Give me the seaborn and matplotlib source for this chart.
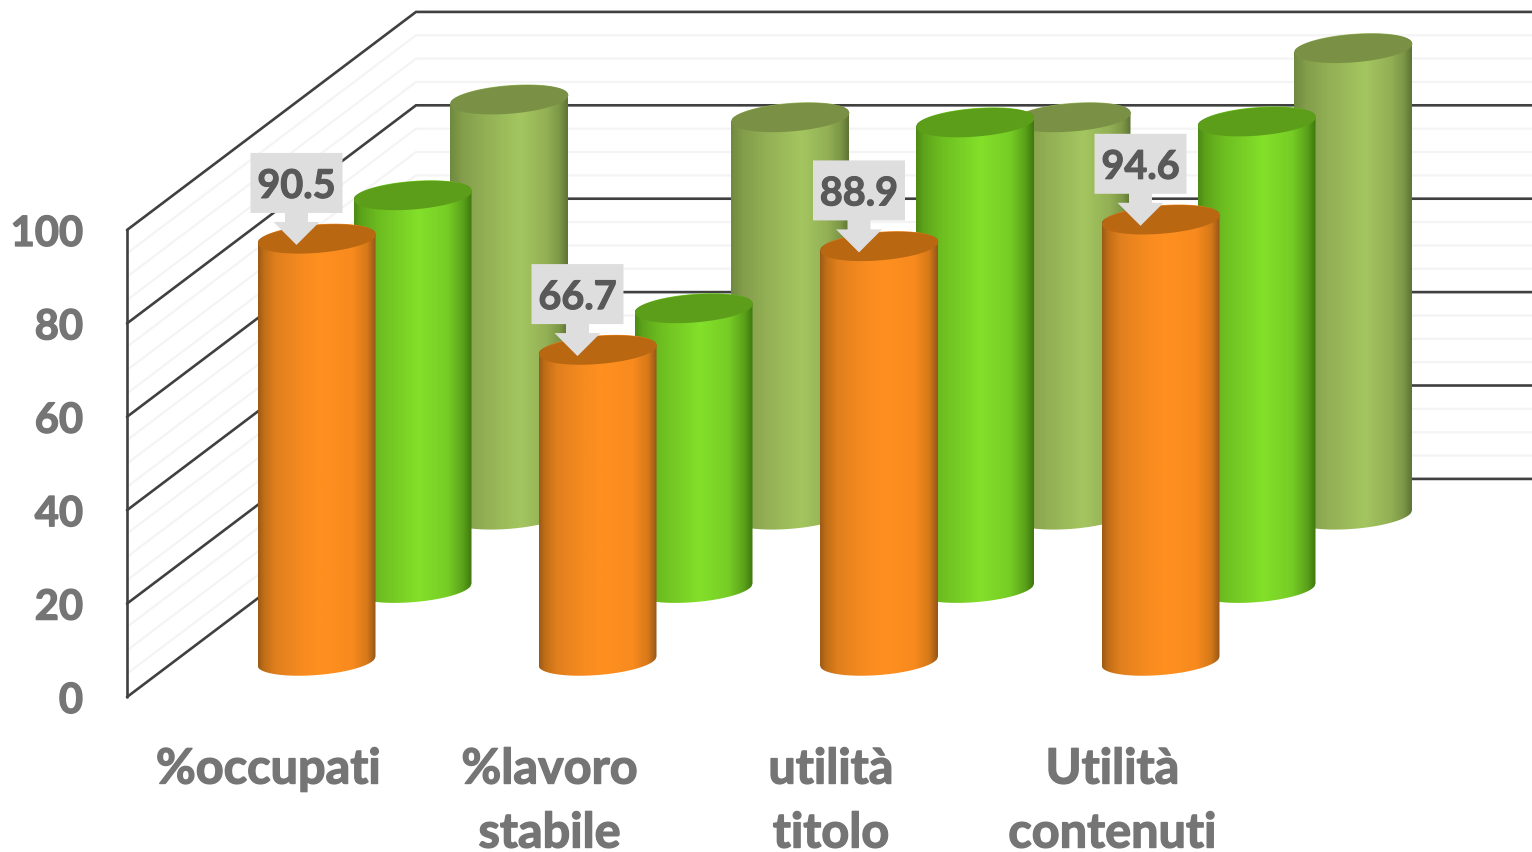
import numpy as np
import seaborn as sns
import matplotlib
matplotlib.use("Agg")
import matplotlib.pyplot as plt
import matplotlib.patheffects as pe
from matplotlib.colors import LinearSegmentedColormap
from matplotlib.path import Path

sns.set_theme(style="white")
plt.rcParams['font.family'] = ['Lato', 'DejaVu Sans']

categories = ["%occupati", "%lavoro\nstabile", "utilità\ntitolo", "Utilità\ncontenuti"]
orange_values = [90.5, 66.7, 88.9, 94.6]
green_values = [84.2, 60.0, 99.8, 100.0]
olive_values = [89.0, 85.2, 85.2, 100.0]
y_ticks = [0, 20, 40, 60, 80, 100]

# one pixel of the picture is one x unit, y stays in chart values
PX_PER_VALUE = 4.67
ZERO_Y_PX = 697
WIDTH_PX, HEIGHT_PX = 1532, 852
BAR_X = np.array([316.5, 597.5, 879.0, 1160.5])
SPACING = 281.0
BAR_W = 118.0
WALL_LEFT, WALL_BACK = 127, 416
WALL_RISE = 46.7
ORANGE_BASE = 7.7
CYL_B = 14.0 / PX_PER_VALUE   # half height of the ellipse
CYL_TILT = 9.0 / PX_PER_VALUE / BAR_W

orange_stops = [(0, "#9c5a16"), (.05, "#c06e16"), (.15, "#e07f1e"), (.4, "#f98c20"), (.55, "#ff9020"),
                (.8, "#f88a1e"), (.93, "#d47818"), (1, "#94561a")]
green_stops = [(0, "#4b8a14"), (.06, "#5ca21a"), (.2, "#6cbc20"), (.55, "#84e02a"), (.8, "#76cc25"),
               (.93, "#5aa01a"), (1, "#3e780e")]
olive_stops = [(0, "#6f8940"), (.1, "#839d4b"), (.3, "#93b055"), (.6, "#a4c660"), (.82, "#93b055"),
               (.93, "#7d9747"), (1, "#5e7336")]

# back to front: value list, x shift, base of the cylinder, colours, top colour
series = [
    (olive_values, 192.5, 39.0, olive_stops, "#7a9145"),
    (green_values, 96.0, 23.3, green_stops, "#5c9e1a"),
    (orange_values, 0.0, ORANGE_BASE, orange_stops, "#b96711"),
]


def ellipse_y(x, cx, cy, sign):
    a = BAR_W / 2
    t = np.clip((x - cx) / a, -1, 1)
    return cy + sign * CYL_B * np.sqrt(1 - t ** 2) + CYL_TILT * (x - cx)


def draw_cylinder(ax, bar, stops, top_color, z):
    x0, x1 = bar.get_x(), bar.get_x() + bar.get_width()
    cx = (x0 + x1) / 2
    y0, y1 = bar.get_y(), bar.get_y() + bar.get_height()
    bar.set_visible(False)

    xs = np.linspace(x0, x1, 120)
    body = list(zip(xs, ellipse_y(xs, cx, y0, -1))) + list(zip(xs[::-1], ellipse_y(xs[::-1], cx, y1, 1)))
    path = Path(np.array(body + [body[0]]), closed=True)

    cmap = LinearSegmentedColormap.from_list("cyl", stops)
    im = ax.imshow(np.linspace(0, 1, 256)[None, :], extent=(x0, x1, y0 - 10, y1 + 10),
                   aspect="auto", cmap=cmap, zorder=z, interpolation="bilinear")
    im.set_clip_path(path, ax.transData)

    top_up = ellipse_y(xs, cx, y1, 1)
    top_down = ellipse_y(xs, cx, y1, -1)
    ax.fill_between(xs, top_down, top_up, color=top_color, lw=0, zorder=z + 0.5)


fig = plt.figure(figsize=(WIDTH_PX / 100, HEIGHT_PX / 100), dpi=100, facecolor="white")
ax = fig.add_axes([0, 0, 1, 1])

# wall grid
for v in np.arange(0, 101, 5):
    major = v in y_ticks
    color = "#404040" if major else "#f4f4f4"
    lw = 1.9 if major else 1.6
    ax.plot([WALL_LEFT, WALL_BACK, WIDTH_PX], [v, v + WALL_RISE, v + WALL_RISE],
            color=color, lw=lw, zorder=2 if major else 1, solid_joinstyle="miter")
ax.plot([WALL_LEFT, WALL_LEFT], [0, 100], color="#404040", lw=1.9, zorder=2)

z = 3
for values, shift, base, stops, top_color in series:
    n_before = len(ax.patches)
    sns.barplot(x=BAR_X + shift, y=values, native_scale=True, orient="x", width=BAR_W / SPACING,
                bottom=base, color=stops[4][1], ax=ax, errorbar=None)
    for bar in ax.patches[n_before:]:
        draw_cylinder(ax, bar, stops, top_color, z)
        z += 1

# callouts on the front series
box_w, box_h = 92.0, 60.0 / PX_PER_VALUE
for x, v in zip(BAR_X, orange_values):
    top = v + ORANGE_BASE
    tip_x = x - 20
    tip_y = top - 1.4
    shaft = 11.5
    head = 23.0
    box_low = tip_y + 32.0 / PX_PER_VALUE
    ax.fill([tip_x - box_w / 2, tip_x + box_w / 2, tip_x + box_w / 2, tip_x + shaft, tip_x + shaft,
             tip_x + head, tip_x, tip_x - head, tip_x - shaft, tip_x - shaft, tip_x - box_w / 2],
            [box_low + box_h, box_low + box_h, box_low, box_low, tip_y + 23.0 / PX_PER_VALUE,
             tip_y + 23.0 / PX_PER_VALUE, tip_y, tip_y + 23.0 / PX_PER_VALUE, tip_y + 23.0 / PX_PER_VALUE,
             box_low, box_low],
            color="#dedede", lw=0, zorder=50)
    ax.text(tip_x, box_low + box_h / 2, f"{v:.1f}", ha="center", va="center_baseline",
            fontsize=28.5, fontweight="bold", color="#595959", zorder=51,
            path_effects=[pe.withStroke(linewidth=0.8, foreground="#595959")])

heavy = [pe.withStroke(linewidth=1.0, foreground="#757575")]

for v in y_ticks:
    ax.text(83, v - 0.1, str(v), ha="right", va="center_baseline", fontsize=30,
            fontweight="bold", color="#757575", path_effects=heavy)

# two line labels hang from the first line
for x, label in zip(BAR_X, categories):
    for i, line in enumerate(label.split("\n")):
        line_y = -(765 + 64 * i - ZERO_Y_PX) / PX_PER_VALUE
        ax.text(x - 48, line_y, line, ha="center", va="center_baseline", fontsize=35,
                fontweight="bold", color="#757575", path_effects=heavy)

ax.set_xlim(0, WIDTH_PX)
ax.set_ylim((ZERO_Y_PX - HEIGHT_PX) / PX_PER_VALUE, ZERO_Y_PX / PX_PER_VALUE)
ax.axis("off")

fig.savefig("out.png", dpi=100, facecolor="white")
